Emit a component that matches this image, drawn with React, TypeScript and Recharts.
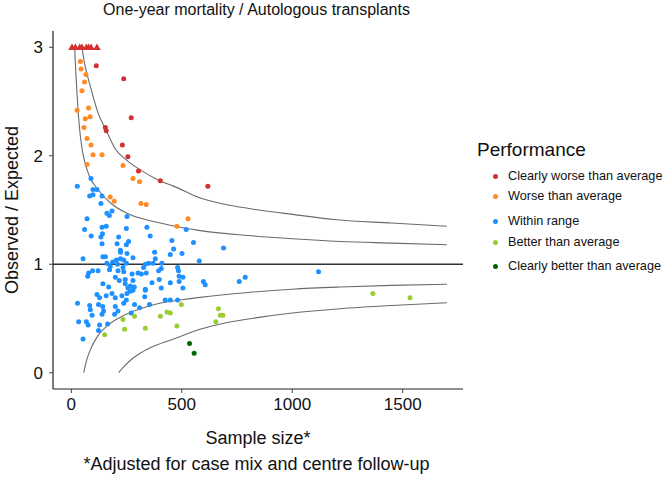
import { ComposedChart, Scatter, Line, XAxis, YAxis, ReferenceLine } from "recharts";

const FONT = '"Liberation Sans", Arial, Helvetica, sans-serif';

const xTicks = [0, 500, 1000, 1500];
const yTicks = [0, 1, 2, 3];

const categories = [
  "Clearly worse than average",
  "Worse than average",
  "Within range",
  "Better than average",
  "Clearly better than average",
];
const colors = ["#d3302f", "#ff8a24", "#1e90ff", "#9acd32", "#006400"];

// O/E above 3 is capped at 3 and shown as a triangle
const cappedX = [3, 18, 38, 48, 68, 78, 89, 116];

const clearlyWorse = [
  [113, 2.83], [237, 2.71], [271, 2.35], [154, 2.26], [158, 2.23],
  [231, 2.1], [256, 1.99], [304, 1.86], [403, 1.77], [618, 1.72],
];

const worse = [
  [41, 2.87], [44, 2.8], [66, 2.75], [60, 2.68], [48, 2.6], [26, 2.42],
  [78, 2.44], [63, 2.34], [85, 2.36], [57, 2.26], [71, 2.16], [89, 2.1],
  [98, 2.01], [139, 2.01], [71, 1.92], [234, 1.91], [279, 1.79], [309, 1.76],
  [176, 1.62], [194, 1.58], [315, 1.56], [339, 1.55], [528, 1.42], [478, 1.35],
];

const withinRange = [
  [89, 1.79], [27, 1.72], [98, 1.69], [116, 1.69], [83, 1.63], [98, 1.64],
  [139, 1.63], [134, 1.56], [184, 1.49], [161, 1.47], [172, 1.45], [252, 1.44],
  [71, 1.42], [139, 1.34], [158, 1.35], [249, 1.33], [342, 1.34], [520, 1.32],
  [60, 1.32], [90, 1.26], [134, 1.25], [141, 1.28], [214, 1.25], [357, 1.26],
  [455, 1.22], [207, 1.19], [249, 1.18], [259, 1.21], [139, 1.19], [222, 1.13],
  [223, 1.11], [553, 1.2], [463, 1.14], [377, 1.11], [448, 1.09], [501, 1.1],
  [53, 1.05], [143, 1.07], [154, 1.07], [222, 1.05], [279, 1.06], [380, 1.05],
  [579, 1.03], [204, 1.04], [187, 1.02], [237, 1.04], [161, 1.01], [176, 0.98],
  [209, 1.0], [249, 1.01], [335, 1.0], [350, 1.01], [370, 1.01], [410, 1.01],
  [407, 0.96], [234, 0.97], [327, 0.97], [78, 0.92], [96, 0.94], [121, 0.94],
  [74, 0.89], [173, 0.95], [211, 0.94], [237, 0.93], [275, 0.91], [302, 0.92],
  [317, 0.91], [339, 0.92], [395, 0.94], [481, 0.97], [485, 0.94], [199, 0.88],
  [217, 0.85], [244, 0.86], [279, 0.85], [365, 0.83], [398, 0.86], [448, 0.83],
  [488, 0.89], [505, 0.88], [488, 0.84], [143, 0.82], [169, 0.79], [244, 0.82],
  [256, 0.78], [267, 0.8], [285, 0.79], [335, 0.77], [407, 0.78], [505, 0.78],
  [598, 0.84], [606, 0.81], [760, 0.84], [787, 0.88], [1119, 0.93], [689, 1.15],
  [252, 1.1], [116, 0.72], [128, 0.69], [158, 0.71], [184, 0.73], [199, 0.69],
  [229, 0.71], [252, 0.73], [267, 0.75], [279, 0.76], [332, 0.7], [335, 0.76],
  [249, 0.67], [237, 0.64], [28, 0.64], [83, 0.62], [123, 0.63], [142, 0.61],
  [199, 0.61], [286, 0.63], [309, 0.6], [354, 0.63], [425, 0.67], [448, 0.67],
  [481, 0.67], [86, 0.58], [146, 0.57], [139, 0.54], [94, 0.53], [211, 0.57],
  [196, 0.54], [271, 0.55], [33, 0.47], [68, 0.47], [76, 0.44], [128, 0.44],
  [123, 0.39], [164, 0.45], [53, 0.31],
];

const better = [
  [498, 0.63], [433, 0.56], [448, 0.55], [403, 0.52], [286, 0.52], [234, 0.49],
  [478, 0.43], [335, 0.41], [241, 0.4], [151, 0.35], [666, 0.59], [674, 0.53],
  [686, 0.53], [654, 0.47], [1365, 0.73], [1533, 0.69],
];

const clearlyBetter = [[535, 0.27], [556, 0.18]];

// control limits
const upper998 = [
  [48, 3.0], [60, 2.85], [86, 2.64], [120, 2.4], [161, 2.22], [200, 2.06],
  [250, 1.96], [312, 1.87], [400, 1.77], [463, 1.72], [583, 1.61], [700, 1.55],
  [850, 1.5], [1000, 1.46], [1200, 1.41], [1450, 1.38], [1700, 1.35],
];
const upper95 = [
  [15, 3.0], [20, 2.78], [26, 2.56], [35, 2.3], [48, 2.07], [60, 1.95],
  [80, 1.82], [124, 1.68], [180, 1.56], [252, 1.47], [403, 1.38], [583, 1.31],
  [800, 1.265], [1000, 1.235], [1217, 1.21], [1450, 1.195], [1700, 1.18],
];
const lower95 = [
  [56, 0.0], [70, 0.12], [90, 0.23], [120, 0.34], [161, 0.43], [220, 0.51],
  [312, 0.59], [400, 0.64], [493, 0.67], [583, 0.695], [800, 0.74], [1000, 0.77],
  [1217, 0.79], [1450, 0.805], [1700, 0.815],
];
const lower998 = [
  [214, 0.0], [240, 0.06], [270, 0.12], [312, 0.18], [380, 0.25], [463, 0.31],
  [583, 0.4], [700, 0.46], [850, 0.51], [1000, 0.55], [1217, 0.59], [1450, 0.62],
  [1700, 0.645],
];

const toPts = (arr: number[][]) => arr.map(([x, y]) => ({ x, y }));

const Dot = (props: any) => {
  const { cx, cy, fill } = props;
  if (cx == null || cy == null) return null;
  return <circle cx={cx} cy={cy} r={2.5} fill={fill} />;
};

const Triangle = (props: any) => {
  const { cx, cy, fill } = props;
  if (cx == null || cy == null) return null;
  const s = 3.8;
  return (
    <polygon
      points={`${cx},${cy - s} ${cx + s},${cy + s * 0.75} ${cx - s},${cy + s * 0.75}`}
      fill={fill}
    />
  );
};

const limits = [upper998, upper95, lower95, lower998];
const series = [clearlyWorse, worse, withinRange, better, clearlyBetter];
const legendY = [176, 196, 221, 242, 266];

export default function App() {
  return (
    <div
      style={{
        position: "absolute",
        left: 0,
        top: 0,
        width: 665,
        height: 484,
        background: "#fff",
        fontFamily: FONT,
      }}
    >
      <ComposedChart
        width={665}
        height={484}
        margin={{ top: 31, right: 202, bottom: 65, left: 0 }}
      >
        <XAxis
          type="number"
          dataKey="x"
          domain={[-83, 1773]}
          ticks={xTicks}
          allowDataOverflow
          tickSize={4}
          tickMargin={5}
          axisLine={{ stroke: "#222", strokeWidth: 1.2 }}
          tickLine={{ stroke: "#444" }}
          tick={{ fill: "#111", fontSize: 17, fontFamily: FONT }}
          label={{
            value: "Sample size*",
            position: "bottom",
            offset: 12,
            style: { fill: "#111", fontSize: 18, fontFamily: FONT },
          }}
        />
        <YAxis
          type="number"
          dataKey="y"
          width={53}
          domain={[-0.15, 3.15]}
          ticks={yTicks}
          allowDataOverflow
          tickSize={4}
          tickMargin={6}
          axisLine={{ stroke: "#222", strokeWidth: 1.2 }}
          tickLine={{ stroke: "#444" }}
          tick={{ fill: "#111", fontSize: 17, fontFamily: FONT }}
          label={{
            value: "Observed / Expected",
            angle: -90,
            position: "insideLeft",
            offset: 12,
            style: { fill: "#111", fontSize: 18, fontFamily: FONT, textAnchor: "middle" },
          }}
        />
        <ReferenceLine y={1} stroke="#333" strokeWidth={1.5} />
        {limits.map((c, i) => (
          <Line
            key={"lim" + i}
            data={toPts(c)}
            dataKey="y"
            type="monotone"
            stroke="#6b6b6b"
            strokeWidth={1.1}
            dot={false}
            activeDot={false}
            isAnimationActive={false}
          />
        ))}
        {series.map((s, i) => (
          <Scatter
            key={categories[i]}
            name={categories[i]}
            data={toPts(s)}
            dataKey="y"
            fill={colors[i]}
            shape={Dot}
            isAnimationActive={false}
          />
        ))}
        <Scatter
          name="capped"
          data={cappedX.map((x) => ({ x, y: 3 }))}
          dataKey="y"
          fill={colors[0]}
          shape={Triangle}
          isAnimationActive={false}
        />
      </ComposedChart>

      <div
        style={{
          position: "absolute",
          left: 0,
          top: 1,
          width: 513,
          textAlign: "center",
          fontSize: 16,
          color: "#111",
        }}
      >
        One-year mortality / Autologous transplants
      </div>

      <div
        style={{
          position: "absolute",
          left: 0,
          top: 454,
          width: 513,
          textAlign: "center",
          fontSize: 18,
          color: "#111",
        }}
      >
        *Adjusted for case mix and centre follow-up
      </div>

      <div style={{ position: "absolute", left: 477, top: 139, fontSize: 19, color: "#111" }}>
        Performance
      </div>
      {categories.map((c, i) => (
        <div
          key={c}
          style={{
            position: "absolute",
            left: 490,
            top: legendY[i] - 8,
            height: 16,
            display: "flex",
            alignItems: "center",
            fontSize: 12.7,
            color: "#111",
            whiteSpace: "nowrap",
          }}
        >
          <span
            style={{
              width: 5,
              height: 5,
              borderRadius: "50%",
              background: colors[i],
              marginLeft: 3,
              marginRight: 10,
            }}
          />
          {c}
        </div>
      ))}
    </div>
  );
}
